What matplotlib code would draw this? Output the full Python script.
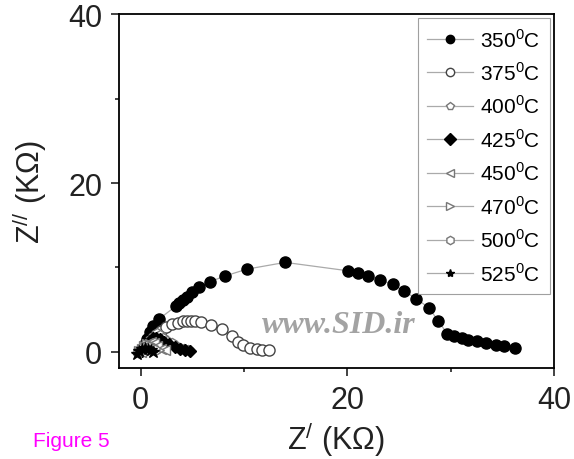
import matplotlib.pyplot as plt
from matplotlib.ticker import MultipleLocator

plt.rcParams['font.family'] = ['Liberation Sans', 'DejaVu Sans']
plt.rcParams['mathtext.fontset'] = 'custom'
plt.rcParams['mathtext.rm'] = 'Liberation Sans'

# Nyquist data, Z' and Z'' in kOhm
x350 = [0.2, 0.4, 0.6, 0.9, 1.2, 1.8, 3.4, 3.7, 4.1, 4.5, 5.0, 5.7, 6.7, 8.2, 10.3, 14.0,
        20.1, 21.0, 22.0, 23.2, 24.4, 25.5, 26.7, 27.9, 28.8, 29.7, 30.3, 31.1, 31.7, 32.6,
        33.4, 34.4, 35.2, 36.2]
y350 = [0.3, 0.9, 1.5, 2.4, 3.1, 3.9, 5.4, 5.8, 6.1, 6.5, 7.1, 7.7, 8.3, 9.0, 9.8, 10.6,
        9.6, 9.3, 9.0, 8.5, 8.0, 7.2, 6.3, 5.2, 3.7, 2.1, 1.9, 1.7, 1.4, 1.3,
        1.1, 0.8, 0.7, 0.5]

x375 = [0.3, 0.6, 1.0, 1.4, 1.7, 2.0, 2.5, 3.0, 3.6, 4.1, 4.5, 4.9, 5.3, 5.9, 6.8, 7.9,
        8.9, 9.4, 9.9, 10.6, 11.3, 11.8, 12.4]
y375 = [0.2, 0.6, 1.1, 1.5, 1.9, 2.5, 3.0, 3.3, 3.4, 3.6, 3.7, 3.7, 3.7, 3.5, 3.2, 2.7,
        1.9, 1.2, 0.8, 0.5, 0.3, 0.2, 0.2]

x400 = [0.2, 0.4, 0.7, 1.0, 1.3, 1.6, 1.9, 2.2, 2.6, 3.0, 3.4, 3.8, 4.2, 4.6]
y400 = [0.2, 0.6, 1.0, 1.5, 1.9, 2.2, 2.0, 1.7, 1.3, 1.0, 0.7, 0.5, 0.3, 0.2]

x425 = [0.1, 0.3, 0.6, 0.9, 1.2, 1.5, 1.9, 2.3, 2.8, 3.3, 3.8, 4.3, 4.8]
y425 = [0.1, 0.5, 0.9, 1.3, 1.6, 1.7, 1.5, 1.2, 0.9, 0.6, 0.4, 0.2, 0.1]

x450 = [0.0, 0.2, 0.4, 0.7, 1.0, 1.3, 1.6, 2.0, 2.4]
y450 = [0.0, 0.4, 0.8, 1.1, 1.2, 1.0, 0.7, 0.4, 0.2]

x470 = [-0.1, 0.1, 0.3, 0.6, 0.9, 1.2, 1.5, 1.8]
y470 = [0.1, 0.4, 0.7, 0.9, 0.9, 0.7, 0.4, 0.2]

x500 = [-0.2, 0.0, 0.2, 0.5, 0.8, 1.1, 1.4]
y500 = [0.0, 0.3, 0.6, 0.7, 0.6, 0.4, 0.2]

x525 = [-0.3, -0.1, 0.1, 0.4, 0.7, 1.0, 1.2]
y525 = [-0.2, 0.1, 0.4, 0.5, 0.4, 0.2, 0.0]

temps = ['350', '375', '400', '425', '450', '470', '500', '525']
xs = [x350, x375, x400, x425, x450, x470, x500, x525]
ys = [y350, y375, y400, y425, y450, y470, y500, y525]
markers = ['o', 'o', 'p', 'D', '<', '>', 'h', '*']
faces = ['black', 'white', 'white', 'black', 'white', 'white', 'white', 'black']
edges = ['black', '#444444', '#777777', 'black', '#777777', '#777777', '#777777', 'black']
sizes = [8, 8, 7.5, 6.5, 7.5, 7.5, 7.5, 9]

fig = plt.figure(figsize=(5.74, 4.6), dpi=100)
ax = fig.add_axes([0.207, 0.198, 0.758, 0.769])

for t, x, y, m, fc, ec, s in zip(temps, xs, ys, markers, faces, edges, sizes):
    ax.plot(x, y, color='#aaaaaa', lw=0.9, marker=m, ms=s, mfc=fc, mec=ec, mew=1.0,
            label=t + r'$^{\mathregular{0}}$C')

ax.set_xlim(-2.1, 40)
ax.set_ylim(-1.9, 40)
ax.xaxis.set_major_locator(MultipleLocator(20))
ax.xaxis.set_minor_locator(MultipleLocator(10))
ax.yaxis.set_major_locator(MultipleLocator(20))
ax.yaxis.set_minor_locator(MultipleLocator(10))
ax.tick_params(which='both', direction='out', top=False, right=False, width=1.2,
               labelsize=22, colors='#222222', pad=6)
ax.tick_params(which='major', length=6)
ax.tick_params(which='minor', length=3)
for sp in ax.spines.values():
    sp.set_linewidth(1.3)

ax.set_xlabel(r'Z$^{\mathregular{/}}$ (KΩ)', fontsize=22, color='#222222', labelpad=3)
ax.set_ylabel(r'Z$^{\mathregular{//}}$ (KΩ)', fontsize=22, color='#222222', labelpad=14)

leg = ax.legend(loc='upper right', fontsize=15, frameon=True, fancybox=False,
                edgecolor='#888888', borderaxespad=0.2, handlelength=2.2,
                labelspacing=0.52, handletextpad=0.35, borderpad=0.45)
leg.get_frame().set_linewidth(0.8)
for h in leg.legend_handles:
    h.set_markersize(6)

fig.text(0.59, 0.293, 'www.SID.ir', fontsize=23, family='Liberation Serif',
         style='italic', weight='bold', color='#a3a3a3', ha='center', va='center')
fig.text(0.057, 0.04, 'Figure 5', fontsize=15, color='#ff00ff', ha='left', va='center')

fig.savefig('out.png', dpi=100)
